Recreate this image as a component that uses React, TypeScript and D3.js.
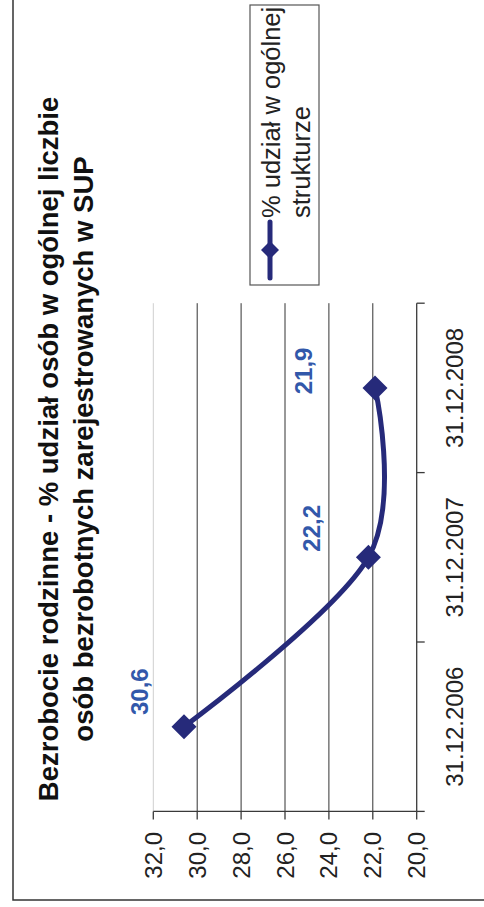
import React from "react";
import * as d3 from "d3";

const categories = ["31.12.2006", "31.12.2007", "31.12.2008"];
const values = [30.6, 22.2, 21.9];
const valueTicks = [20, 22, 24, 26, 28, 30, 32];
const dataLabels = ["30,6", "22,2", "21,9"];
const seriesName = ["% udział w ogólnej", "strukturze"];
const titleLines = [
  "Bezrobocie rodzinne - % udział osób w ogólnej liczbie",
  "osób bezrobotnych zarejestrowanych w SUP",
];
// manual label offsets (dx, dy) relative to each point, as in the source chart
const labelOffsets: [number, number][] = [
  [35, -36],
  [29, -48],
  [17, -63],
];

const W = 907; // unrotated width
const FONT = "'Liberation Sans', Arial, sans-serif";
const LINE = "#262a7a";
const LABEL = "#3258aa";
const AXIS = "#3a3a3a";

export default function App() {
  const x = d3.scaleBand<string>().domain(categories).range([95.6, 603.8]).padding(0);
  const y = d3.scaleLinear().domain([20, 32]).range([416.7, 153.3]);
  const bw = x.bandwidth();
  const cx = (c: string) => (x(c) as number) + bw / 2;
  const pts: [number, number][] = categories.map((c, i) => [cx(c), y(values[i])]);
  const line = d3.line().curve(d3.curveCatmullRom.alpha(0))(pts) || "";
  const fmt = d3
    .formatLocale({ decimal: ",", thousands: " ", grouping: [3], currency: ["", " zł"] })
    .format(".1f");
  const boundaries = [...categories.map((c) => x(c) as number), x.range()[1]];
  const diamond = (r: number) => `M0,${-r}L${r},0L0,${r}L${-r},0Z`;
  const [x0, x1] = x.range();

  return (
    <svg
      width={484}
      height={907}
      style={{ position: "absolute", left: 0, top: 0, background: "#fff" }}
      fontFamily={FONT}
    >
      <g transform={`translate(0,${W}) rotate(-90)`}>
        <rect x={7} y={13} width={1000} height={600} fill="#fff" stroke="#333" strokeWidth={1.5} />
        {/* title */}
        {titleLines.map((t, i) => (
          <text
            key={i}
            x={458}
            y={58 + i * 35}
            textAnchor="middle"
            fontWeight="bold"
            fontSize={27.5}
            fill="#111"
          >
            {t}
          </text>
        ))}
        {/* gridlines */}
        {valueTicks
          .filter((v) => v > 20)
          .map((v) => (
            <line
              key={v}
              x1={x0}
              x2={x1}
              y1={y(v)}
              y2={y(v)}
              stroke={v === 32 ? "#cfcfcf" : "#333"}
              strokeWidth={1}
            />
          ))}
        {/* value axis */}
        <line x1={x0} x2={x0} y1={y(32)} y2={y(20)} stroke={AXIS} strokeWidth={1.3} />
        {valueTicks.map((v) => (
          <g key={v}>
            <line x1={x0 - 8} x2={x0} y1={y(v)} y2={y(v)} stroke={AXIS} strokeWidth={1.3} />
            <text
              x={75}
              y={y(v)}
              textAnchor="end"
              dominantBaseline="central"
              fontSize={24}
              fill="#222"
            >
              {fmt(v)}
            </text>
          </g>
        ))}
        {/* category axis */}
        <line x1={x0} x2={x1} y1={y(20)} y2={y(20)} stroke={AXIS} strokeWidth={1.3} />
        {boundaries.map((b, i) => (
          <line key={i} x1={b} x2={b} y1={y(20)} y2={y(20) + 8} stroke={AXIS} strokeWidth={1.3} />
        ))}
        {categories.map((c) => (
          <text key={c} x={cx(c)} y={463} textAnchor="middle" fontSize={24} fill="#222">
            {c}
          </text>
        ))}
        {/* series */}
        <path d={line} fill="none" stroke={LINE} strokeWidth={5} strokeLinecap="round" />
        {pts.map(([px, py], i) => (
          <path key={i} d={diamond(12.5)} transform={`translate(${px},${py})`} fill={LINE} />
        ))}
        {pts.map(([px, py], i) => (
          <text
            key={i}
            x={px + labelOffsets[i][0]}
            y={py + labelOffsets[i][1]}
            textAnchor="middle"
            fontWeight="bold"
            fontSize={24}
            fill={LABEL}
          >
            {dataLabels[i]}
          </text>
        ))}
        {/* legend */}
        <rect x={622} y={250} width={280} height={69} fill="#fff" stroke="#555" strokeWidth={1.2} />
        <line x1={629} x2={685} y1={270} y2={270} stroke={LINE} strokeWidth={5} strokeLinecap="round" />
        <path d={diamond(9)} transform="translate(657,270)" fill={LINE} />
        {seriesName.map((s, i) => (
          <text key={i} x={689} y={280 + i * 30} fontSize={25.5} fill="#222">
            {s}
          </text>
        ))}
      </g>
    </svg>
  );
}
